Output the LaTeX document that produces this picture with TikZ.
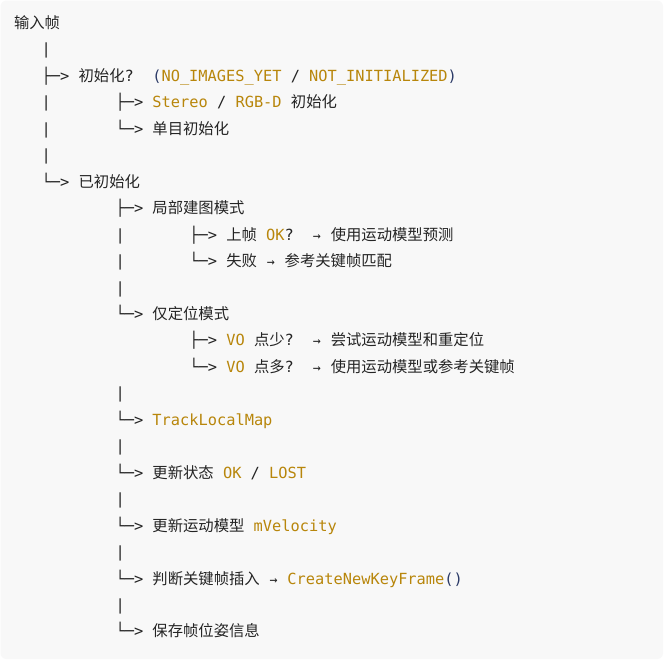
\documentclass[tikz,border=0pt]{standalone}
\usepackage{fontspec}
\setmonofont{DejaVu Sans Mono}
\newfontfamily\cjk{Noto Sans CJK SC}
\usepackage{xcolor}
\usepackage{tikz}
\definecolor{codebg}{HTML}{F8F8F8}
\definecolor{txt}{HTML}{242424}
\definecolor{kwgold}{HTML}{B8860B}
\definecolor{prncol}{HTML}{2B3A67}
\newcommand{\zh}[1]{{\cjk #1}}
\newcommand{\kw}[1]{\textcolor{kwgold}{#1}}
\newcommand{\prn}[1]{\textcolor{prncol}{#1}}
\newcommand{\rarr}{\makebox[0.602em][c]{\fontsize{10pt}{12pt}\selectfont →}}
\frenchspacing

\begin{document}
\begin{tikzpicture}[x=6.923pt, y=-19.84pt,
    line/.style={anchor=base west, inner sep=0pt, outer sep=0pt, text=txt,
      font=\ttfamily\fontsize{11.5pt}{14pt}\selectfont},
    pipe/.style={line}]
    \useasboundingbox (-10.5pt,21.375pt) rectangle (489.75pt,-476.625pt);
    \fill[white] (-10.5pt,21.375pt) rectangle (489.75pt,-476.625pt);
    \fill[codebg, rounded corners=4.5pt] (-10.1pt,21pt) rectangle (486.75pt,-472.9pt);
    % Root
    \node[line] (root) at (0,0) {\zh{输入帧}};
    % Level 1: initialisation check
    \foreach \r in {1,3,4,5} \node[pipe] (pa\r) at (3,\r) {|};
    \node[line] (init) at (3,2) {├─> \zh{初始化}?~~\prn{(}\kw{NO\_IMAGES\_YET} / \kw{NOT\_INITIALIZED}\prn{)}};
    \node[line] (stereo) at (11,3) {├─> \kw{Stereo} / \kw{RGB-D} \zh{初始化}};
    \node[line] (mono) at (11,4) {└─> \zh{单目初始化}};
    \node[line] (done) at (3,6) {└─> \zh{已初始化}};
    % Level 2: tracking modes
    \foreach \r in {8,9,10,14,16,18,20,22} \node[pipe] (pb\r) at (11,\r) {|};
    \node[line] (mapping) at (11,7) {├─> \zh{局部建图模式}};
    \node[line] (lastok) at (19,8) {├─> \zh{上帧} \kw{OK}?~~\rarr{} \zh{使用运动模型预测}};
    \node[line] (fail) at (19,9) {└─> \zh{失败} \rarr{} \zh{参考关键帧匹配}};
    \node[line] (locmode) at (11,11) {└─> \zh{仅定位模式}};
    \node[line] (vofew) at (19,12) {├─> \kw{VO} \zh{点少}?~~\rarr{} \zh{尝试运动模型和重定位}};
    \node[line] (vomany) at (19,13) {└─> \kw{VO} \zh{点多}?~~\rarr{} \zh{使用运动模型或参考关键帧}};
    % Level 2: after tracking
    \node[line] (track) at (11,15) {└─> \kw{TrackLocalMap}};
    \node[line] (state) at (11,17) {└─> \zh{更新状态} \kw{OK} / \kw{LOST}};
    \node[line] (motion) at (11,19) {└─> \zh{更新运动模型} \kw{mVelocity}};
    \node[line] (kfins) at (11,21) {└─> \zh{判断关键帧插入} \rarr{} \kw{CreateNewKeyFrame}\prn{()}};
    \node[line] (save) at (11,23) {└─> \zh{保存帧位姿信息}};
\end{tikzpicture}
\end{document}
